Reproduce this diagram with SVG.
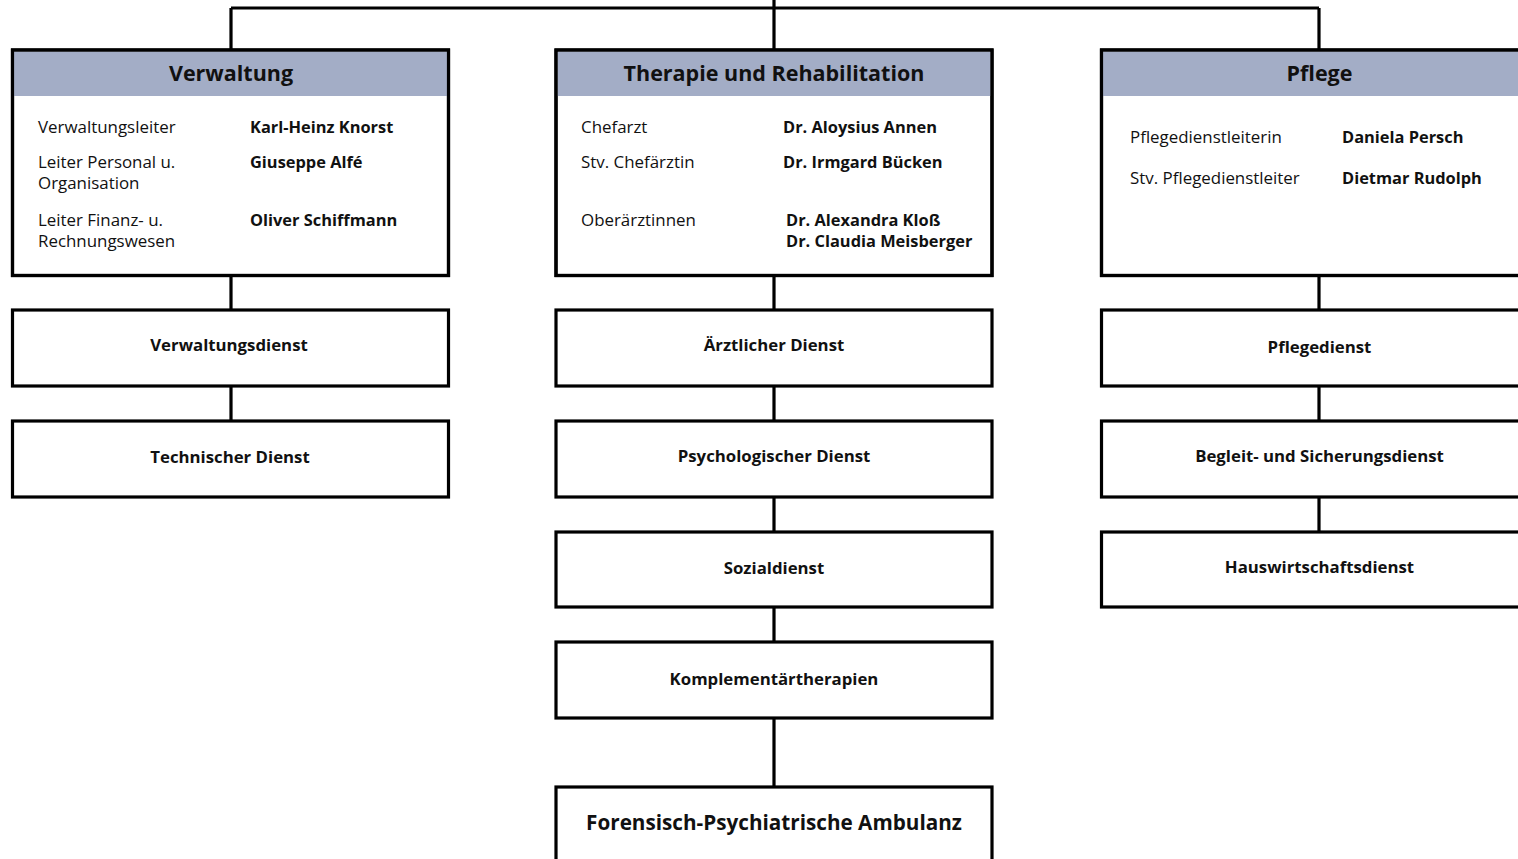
<svg xmlns="http://www.w3.org/2000/svg" width="1518" height="859" viewBox="0 0 1518 859">
<style>
.box{fill:#fff;stroke:#000;stroke-width:3.2}
.frame{fill:none;stroke:#000;stroke-width:3.2}
.band{fill:#a3adc6}
.con{fill:none;stroke:#000;stroke-width:3.2}
text{font-family:"Open Sans","Noto Sans","Liberation Sans",sans-serif;fill:#111}
.h{font-size:21.5px;font-weight:700;text-anchor:middle}
.l{font-size:16.9px;font-weight:400}
.n{font-size:16.4px;font-weight:700}
.s{font-size:16.8px;font-weight:700;text-anchor:middle}
.big{font-size:20.7px;font-weight:700;text-anchor:middle}
</style>
<rect width="1518" height="859" fill="#fff"/>
<g id="connectors">
<path class="con" d="M231,8 H1319 M774,0 V50 M231,8 V50 M1319,8 V50"/>
<path class="con" d="M231,275 V310 M231,386 V421"/>
<path class="con" d="M774,275 V310 M774,386 V421 M774,497 V532 M774,607 V642 M774,718 V787"/>
<path class="con" d="M1319,275 V310 M1319,386 V421 M1319,497 V532"/>
</g>
<g id="verwaltung">
<rect class="box" x="12.5" y="50" width="436" height="225.5"/>
<rect class="band" x="14" y="51.6" width="433" height="44.4"/>
<rect class="frame" x="12.5" y="50" width="436" height="225.5"/>
<text class="h" x="231" y="81">Verwaltung</text>
<text class="l" x="38" y="133">Verwaltungsleiter</text>
<text class="n" x="250" y="133">Karl-Heinz Knorst</text>
<text class="l" x="38" y="168">Leiter Personal u.</text>
<text class="l" x="38" y="189">Organisation</text>
<text class="n" x="250" y="168">Giuseppe Alfé</text>
<text class="l" x="38" y="226">Leiter Finanz- u.</text>
<text class="l" x="38" y="247">Rechnungswesen</text>
<text class="n" x="250" y="226">Oliver Schiffmann</text>
</g>
<g id="therapie">
<rect class="box" x="556" y="50" width="436" height="225.5"/>
<rect class="band" x="557.6" y="51.6" width="433" height="44.4"/>
<rect class="frame" x="556" y="50" width="436" height="225.5"/>
<text class="h" x="774" y="81">Therapie und Rehabilitation</text>
<text class="l" x="581" y="133">Chefarzt</text>
<text class="n" x="783" y="133">Dr. Aloysius Annen</text>
<text class="l" x="581" y="168">Stv. Chefärztin</text>
<text class="n" x="783" y="168">Dr. Irmgard Bücken</text>
<text class="l" x="581" y="226">Oberärztinnen</text>
<text class="n" x="786" y="226">Dr. Alexandra Kloß</text>
<text class="n" x="786" y="247">Dr. Claudia Meisberger</text>
</g>
<g id="pflege">
<rect class="box" x="1101.5" y="50" width="436" height="225.5"/>
<rect class="band" x="1103" y="51.6" width="433" height="44.4"/>
<rect class="frame" x="1101.5" y="50" width="436" height="225.5"/>
<text class="h" x="1319.5" y="81">Pflege</text>
<text class="l" x="1130" y="143">Pflegedienstleiterin</text>
<text class="n" x="1342" y="143">Daniela Persch</text>
<text class="l" x="1130" y="184">Stv. Pflegedienstleiter</text>
<text class="n" x="1342" y="184">Dietmar Rudolph</text>
</g>
<g id="verwaltungsdienst">
<rect class="box" x="12.5" y="310" width="436" height="76"/>
<text class="s" x="229" y="351">Verwaltungsdienst</text>
</g>
<g id="technischer-dienst">
<rect class="box" x="12.5" y="421" width="436" height="76"/>
<text class="s" x="230" y="463">Technischer Dienst</text>
</g>
<g id="aerztlicher-dienst">
<rect class="box" x="556" y="310" width="436" height="76"/>
<text class="s" x="774" y="351">Ärztlicher Dienst</text>
</g>
<g id="psychologischer-dienst">
<rect class="box" x="556" y="421" width="436" height="76"/>
<text class="s" x="774" y="462">Psychologischer Dienst</text>
</g>
<g id="sozialdienst">
<rect class="box" x="556" y="532" width="436" height="75"/>
<text class="s" x="774" y="574">Sozialdienst</text>
</g>
<g id="komplementaertherapien">
<rect class="box" x="556" y="642" width="436" height="76"/>
<text class="s" x="774" y="685">Komplementärtherapien</text>
</g>
<g id="ambulanz">
<rect class="box" x="556" y="787" width="436" height="90"/>
<text class="big" x="774" y="830">Forensisch-Psychiatrische Ambulanz</text>
</g>
<g id="pflegedienst">
<rect class="box" x="1101.5" y="310" width="436" height="76"/>
<text class="s" x="1319.5" y="353">Pflegedienst</text>
</g>
<g id="begleitdienst">
<rect class="box" x="1101.5" y="421" width="436" height="76"/>
<text class="s" x="1319.5" y="462">Begleit- und Sicherungsdienst</text>
</g>
<g id="hauswirtschaftsdienst">
<rect class="box" x="1101.5" y="532" width="436" height="75"/>
<text class="s" x="1319.5" y="573">Hauswirtschaftsdienst</text>
</g>
</svg>
